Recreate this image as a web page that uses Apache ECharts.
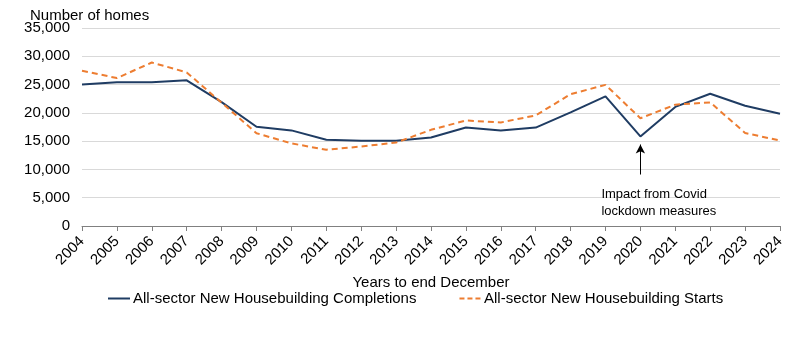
<!DOCTYPE html>
<html>
<head>
<meta charset="utf-8">
<script src="https://cdn.jsdelivr.net/npm/echarts@6/dist/echarts.min.js"></script>
<style>
  html, body { margin: 0; padding: 0; background: #fff; }
  #chart { width: 808px; height: 343px; }
</style>
</head>
<body>
<div id="chart"></div>
<script>
// Years to end December
const years = ['2004','2005','2006','2007','2008','2009','2010','2011','2012','2013','2014',
               '2015','2016','2017','2018','2019','2020','2021','2022','2023','2024'];

// All-sector new housebuilding completions
const completions = [25000, 25400, 25400, 25750, 21900, 17550, 16900, 15250, 15070, 15050, 15650,
                     17420, 16890, 17400, 20100, 22900, 15830, 21050, 23370, 21250, 19850];

// All-sector new housebuilding starts
const starts = [27450, 26150, 28900, 27150, 21800, 16400, 14600, 13480, 14050, 14750, 17000,
                18650, 18300, 19550, 23300, 24950, 19050, 21450, 21850, 16450, 15100];

const noteLines = ['Impact from Covid', 'lockdown measures'];
const noteYear = '2020';

const font = 'Liberation Sans, Arial, sans-serif';
const navy = '#1f3c63';
const orange = '#ed7d31';
const chart = echarts.init(document.getElementById('chart'));

chart.setOption({
  animation: false,
  textStyle: { fontFamily: font },
  // y-axis unit label above the value labels
  title: {
    text: 'Number of homes',
    left: 30,
    top: 8,
    padding: 0,
    textStyle: { fontSize: 15, fontWeight: 'normal', color: '#000', fontFamily: font }
  },
  grid: { left: 82, right: 28, top: 28, bottom: 117, containLabel: false },
  legend: {
    top: 286,
    left: 103,
    itemWidth: 22,
    itemHeight: 2,
    itemGap: 43,
    textStyle: { fontSize: 15, color: '#000', fontFamily: font, padding: [0, 0, 0, -2] },
    data: [
      { name: 'All-sector New Housebuilding Completions',
        icon: 'path://M0,0h22v2h-22z', itemStyle: { color: navy } },
      { name: 'All-sector New Housebuilding Starts',
        icon: 'path://M0,0h5v2h-5zM8,0h5v2h-5zM16,0h5v2h-5z', itemStyle: { color: orange } }
    ]
  },
  xAxis: {
    type: 'category',
    data: years,
    boundaryGap: false,
    name: 'Years to end December',
    nameLocation: 'middle',
    nameGap: 47,
    nameTextStyle: { fontSize: 15, color: '#000' },
    axisLine: { lineStyle: { color: '#808080', width: 1 } },
    axisTick: { show: true, length: 5, alignWithLabel: true, lineStyle: { color: '#808080' } },
    axisLabel: { rotate: 45, fontSize: 15, color: '#000', margin: 13, interval: 0 },
    splitLine: { show: false }
  },
  yAxis: {
    type: 'value',
    min: 0,
    max: 35000,
    interval: 5000,
    axisLine: { show: false },
    axisTick: { show: false },
    axisLabel: {
      fontSize: 15, color: '#000', margin: 12,
      formatter: v => v.toLocaleString('en-GB')
    },
    splitLine: { lineStyle: { color: '#d9d9d9', width: 1 } }
  },
  series: [
    {
      name: 'All-sector New Housebuilding Completions',
      type: 'line',
      data: completions,
      symbol: 'none',
      lineStyle: { color: navy, width: 2 },
      itemStyle: { color: navy },
      markLine: {
        silent: true,
        symbol: ['none', 'arrow'],
        symbolSize: [7, 9],
        label: { show: false },
        lineStyle: { color: '#000', width: 1, type: 'solid' },
        data: [[{ coord: [noteYear, 9100] }, { coord: [noteYear, 14400] }]]
      }
    },
    {
      name: 'All-sector New Housebuilding Starts',
      type: 'line',
      data: starts,
      symbol: 'none',
      lineStyle: { color: orange, width: 2, type: [6, 4] },
      itemStyle: { color: orange }
    }
  ]
});

// Annotation text placed under the 2020 arrow
const p = chart.convertToPixel({ xAxisIndex: 0, yAxisIndex: 0 }, [noteYear, 9100]);
chart.setOption({
  graphic: [{
    type: 'text',
    left: p[0] - 39,
    top: p[1] + 11,
    style: {
      text: noteLines.join('\n'),
      font: '13px ' + font,
      lineHeight: 17,
      fill: '#000'
    }
  }]
});
</script>
</body>
</html>
